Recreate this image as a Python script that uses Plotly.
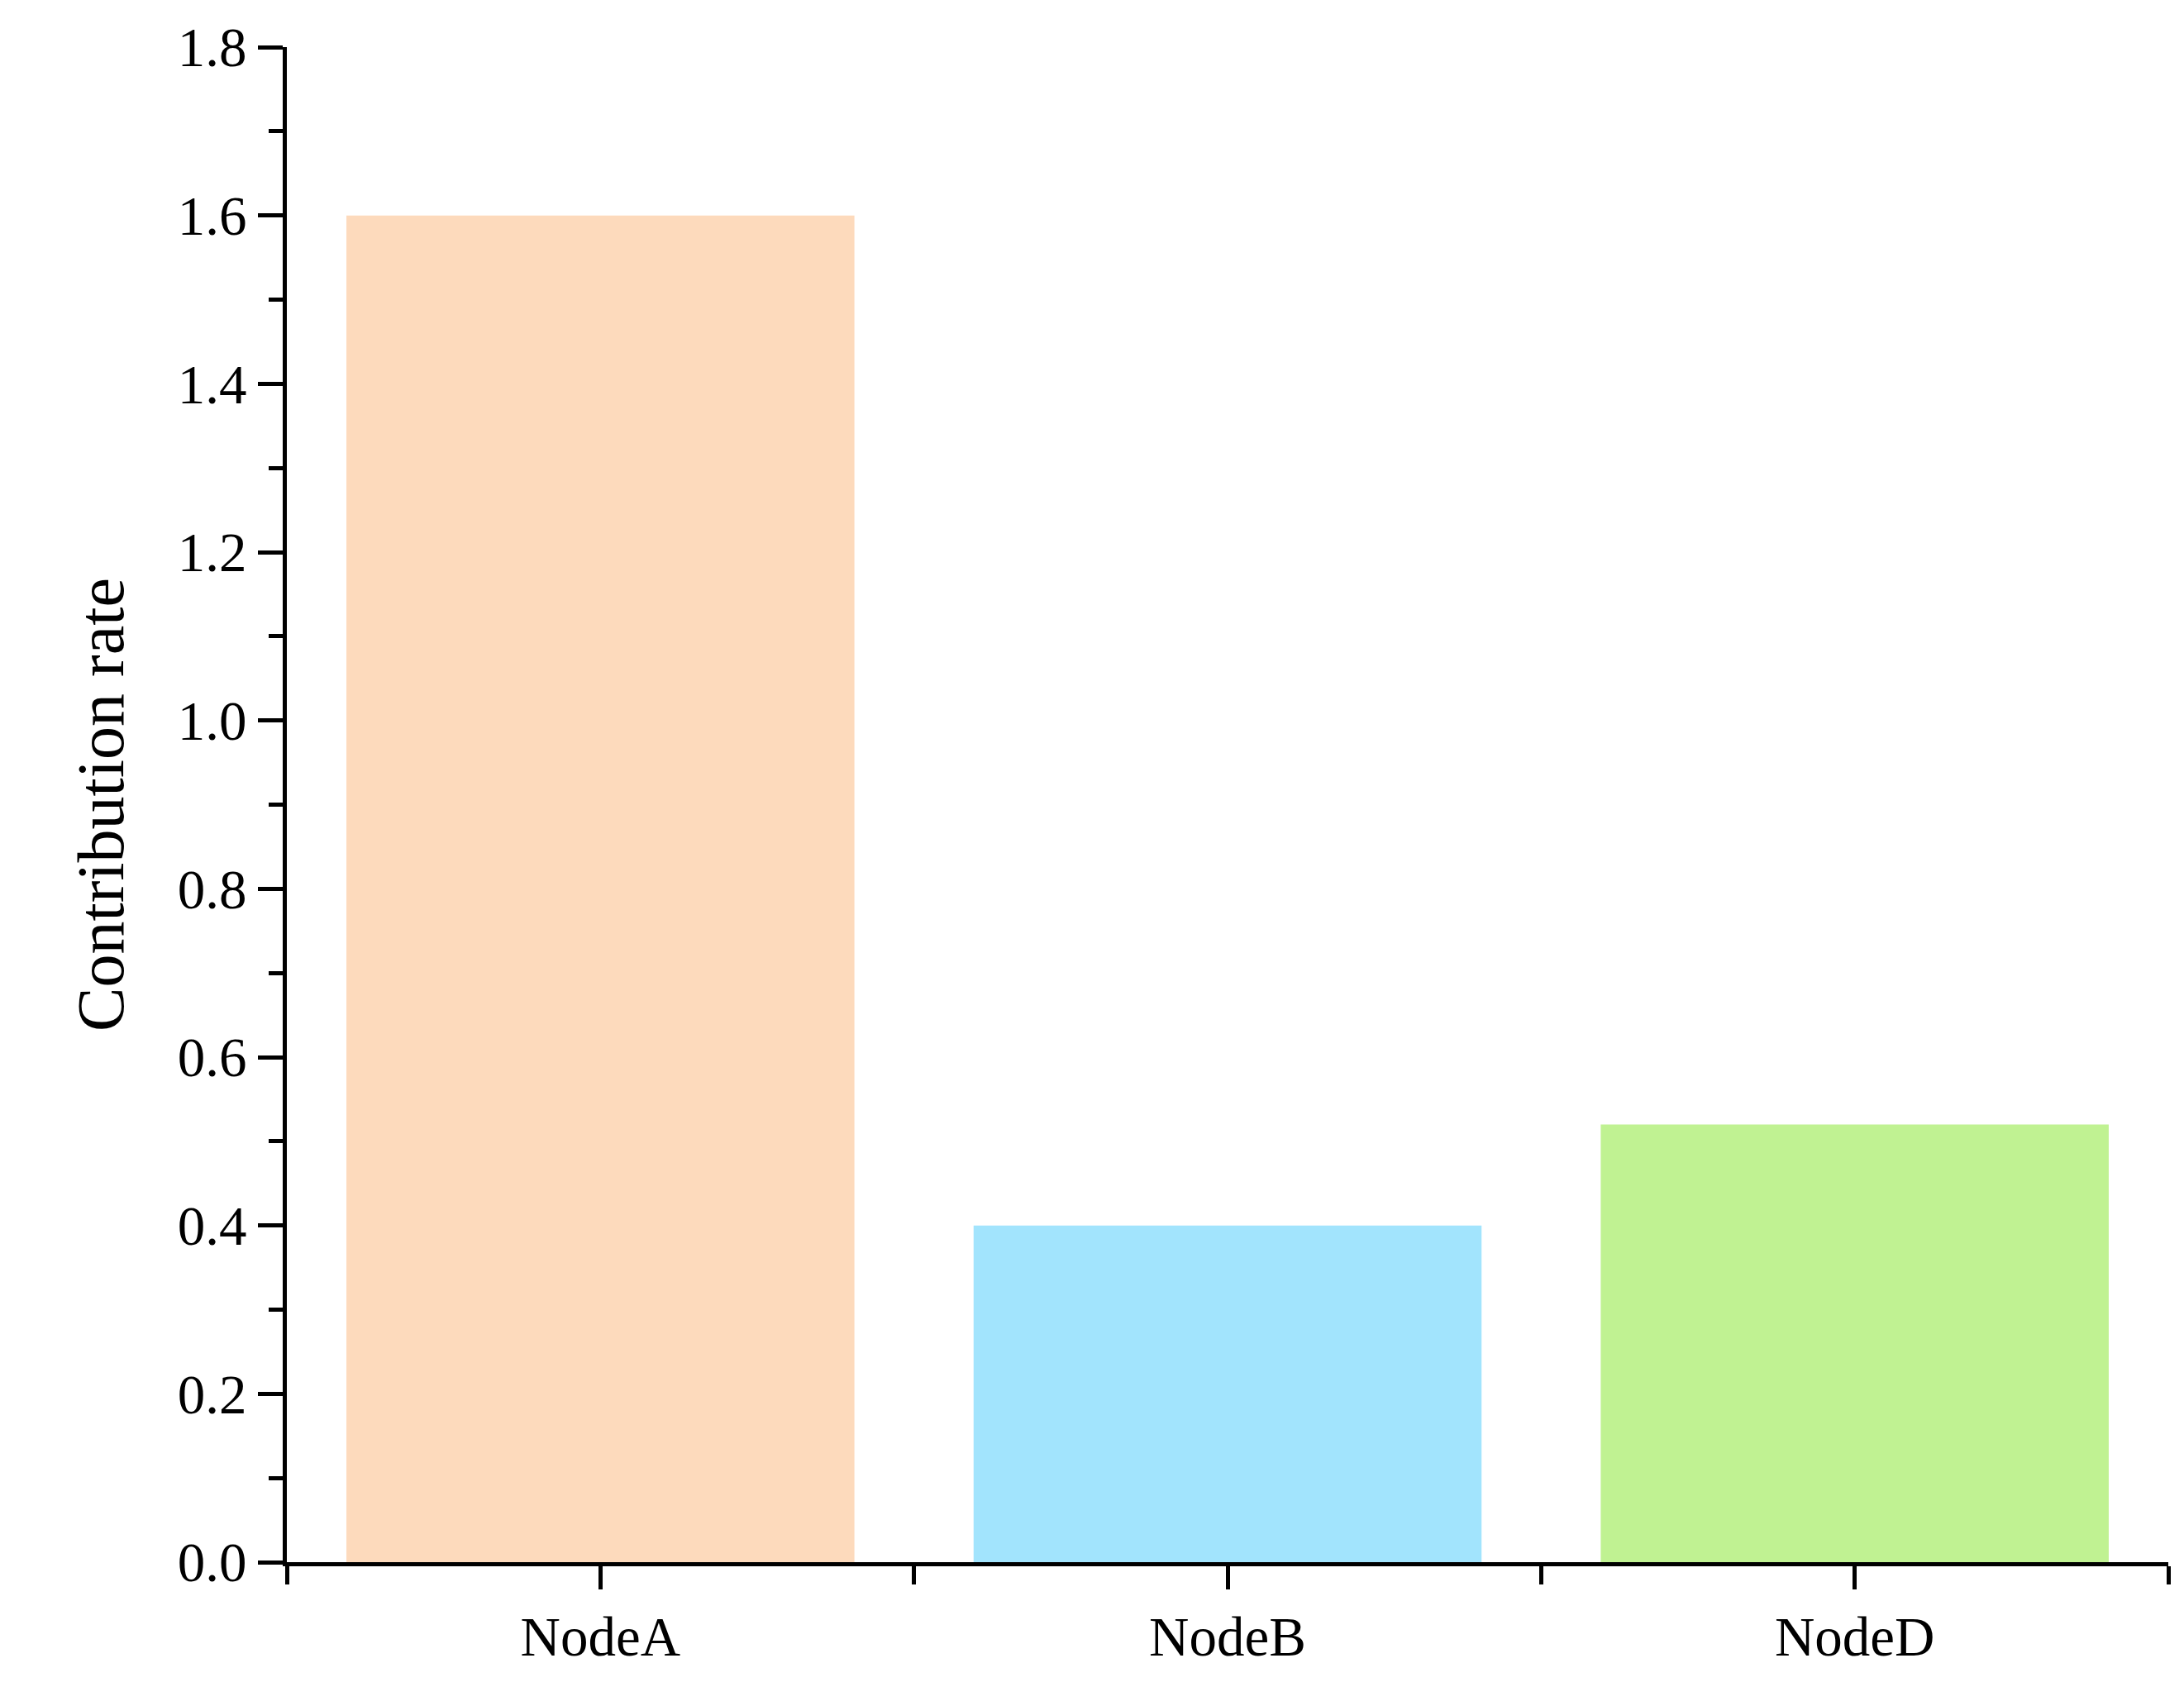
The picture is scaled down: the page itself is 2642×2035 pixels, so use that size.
import plotly.graph_objects as go

# bar data
nodes = ["NodeA", "NodeB", "NodeD"]
rates = [1.60, 0.40, 0.52]
colors = ["#FDDABC", "#A2E4FD", "#C0F292"]

positions = list(range(len(nodes)))

fig = go.Figure(go.Bar(x=positions, y=rates, marker_color=colors,
                       marker_line_width=0, width=0.81))

font = dict(family="Liberation Serif", color="black")

fig.update_layout(
    width=2642, height=2035,
    plot_bgcolor="white", paper_bgcolor="white",
    margin=dict(l=339, r=27, t=47, b=153),
    showlegend=False,
    font=dict(size=67, **font),
)
fig.update_xaxes(
    range=[-0.5, 2.5], tickmode="array", tickvals=positions, ticktext=nodes,
    showline=True, linecolor="black", linewidth=5, showgrid=False, zeroline=False,
    ticks="outside", ticklen=28, tickwidth=5, tickcolor="black",
    minor=dict(tickmode="array", tickvals=[-0.5, 0.5, 1.5, 2.5], ticks="outside",
               ticklen=22, tickwidth=5, tickcolor="black"),
    tickfont=dict(size=67),
)
fig.update_yaxes(
    range=[0, 1.8], dtick=0.2, tickformat=".1f",
    showline=True, linecolor="black", linewidth=5, showgrid=False, zeroline=False,
    ticks="outside", ticklen=30, tickwidth=5, tickcolor="black",
    minor=dict(dtick=0.1, ticks="outside", ticklen=17, tickwidth=5, tickcolor="black"),
    tickfont=dict(size=67),
    title=dict(text="Contribution rate", font=dict(size=80), standoff=40),
)

fig.write_html("out.html")
